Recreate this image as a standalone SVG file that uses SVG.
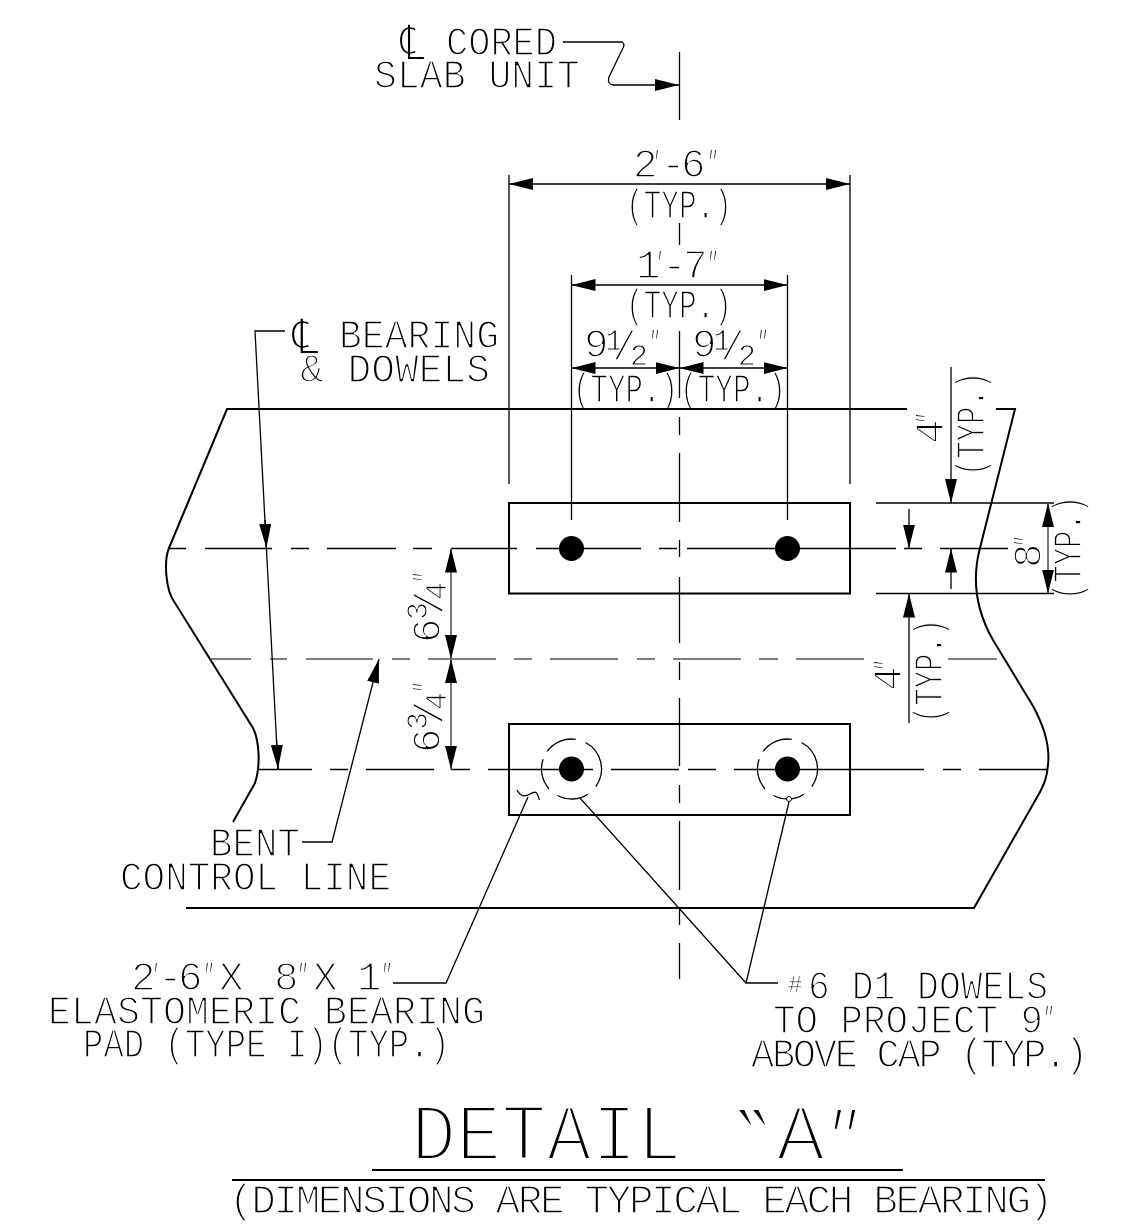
<svg xmlns="http://www.w3.org/2000/svg" width="1124" height="1226" viewBox="0 0 1124 1226">
<style>
.t{font-family:"Liberation Mono","DejaVu Sans Mono",monospace;font-size:41px;fill:#000;stroke:#fff;stroke-width:1.7px}
.s{font-size:30px;stroke-width:1.1px}
.n{font-size:24px;stroke-width:.7px}
.h{font-size:82px;stroke-width:3.9px}
.cl{font-family:"DejaVu Sans",sans-serif;font-size:50px;stroke-width:2.2px}
.q{font-family:"Inter","DejaVu Sans",sans-serif;font-weight:100;font-size:36px;stroke:none}
.qh{font-family:"DejaVu Sans",sans-serif;font-size:96px;stroke-width:3.2px}
.qi{font-family:"Inter","DejaVu Sans",sans-serif;font-weight:100;font-size:78px;stroke:none}
.l{fill:none;stroke:#000;stroke-width:1.3}
.g{fill:none;stroke:#555;stroke-width:1.6}
.b{fill:none;stroke:#000;stroke-width:2}
.a{marker-end:url(#ah)}
.aa{marker-end:url(#ah);marker-start:url(#ah)}
</style>
<defs>
<marker id="ah" markerUnits="userSpaceOnUse" markerWidth="24" markerHeight="12" refX="24" refY="6" orient="auto-start-reverse"><path d="M0 0L24 6L0 12z" fill="#000"/></marker>
<path id="ring" fill="none" stroke="#000" stroke-width="1.3" d="M14.1 -26.5A30 30 0 0 1 24.3 17.6M16.3 25.2A30 30 0 0 1 -14.1 26.5M-22.6 19.7A30 30 0 0 1 -28.4 -9.8M-24.3 -17.6A30 30 0 0 1 4.2 -29.7"/>
</defs>
<g id="labels" opacity=".999">
<text class="t"><tspan class="cl" x="400" y="60" textLength="25" lengthAdjust="spacingAndGlyphs">℄</tspan> <tspan x="446" y="55" textLength="111" lengthAdjust="spacingAndGlyphs">CORED</tspan></text>
<text class="t" x="374" y="88" textLength="206" lengthAdjust="spacingAndGlyphs">SLAB UNIT</text>
<text class="t"><tspan x="633" y="177">2</tspan><tspan class="q" x="654" y="177">′</tspan><tspan x="661" y="177">-</tspan><tspan x="681" y="177">6</tspan><tspan class="q" x="708" y="177">″</tspan></text>
<text class="t" x="626" y="218" textLength="106" lengthAdjust="spacingAndGlyphs">(TYP.)</text>
<text class="t"><tspan x="636" y="278">1</tspan><tspan class="q" x="657" y="278">′</tspan><tspan x="662" y="278">-</tspan><tspan x="683" y="278">7</tspan><tspan class="q" x="708" y="278">″</tspan></text>
<text class="t" x="626" y="318" textLength="106" lengthAdjust="spacingAndGlyphs">(TYP.)</text>
<text class="t"><tspan x="584" y="357">9</tspan><tspan class="s" x="605" y="350">1</tspan><tspan x="612" y="360">/</tspan><tspan class="s" x="630" y="365">2</tspan><tspan class="q" x="650" y="357">″</tspan></text>
<text class="t"><tspan x="692" y="357">9</tspan><tspan class="s" x="713" y="350">1</tspan><tspan x="720" y="360">/</tspan><tspan class="s" x="738" y="365">2</tspan><tspan class="q" x="758" y="357">″</tspan></text>
<text class="t" x="573" y="402" textLength="105" lengthAdjust="spacingAndGlyphs">(TYP.)</text>
<text class="t" x="680" y="402" textLength="106" lengthAdjust="spacingAndGlyphs">(TYP.)</text>
<text class="t"><tspan class="cl" x="292" y="354" textLength="27" lengthAdjust="spacingAndGlyphs">℄</tspan> <tspan x="339" y="348" textLength="160" lengthAdjust="spacingAndGlyphs">BEARING</tspan></text>
<text class="t" x="300" y="382" textLength="190" lengthAdjust="spacingAndGlyphs">&amp; DOWELS</text>
<text class="t" transform="translate(943,444) rotate(-90)"><tspan x="0" y="0">4</tspan><tspan class="q" x="21" y="0">″</tspan></text>
<text class="t" transform="translate(984,476) rotate(-90)" textLength="104" lengthAdjust="spacingAndGlyphs">(TYP.)</text>
<text class="t" transform="translate(901,691) rotate(-90)"><tspan x="0" y="0">4</tspan><tspan class="q" x="21" y="0">″</tspan></text>
<text class="t" transform="translate(942,723) rotate(-90)" textLength="104" lengthAdjust="spacingAndGlyphs">(TYP.)</text>
<text class="t" transform="translate(1041,568) rotate(-90)"><tspan x="0" y="0">8</tspan><tspan class="q" x="22" y="0">″</tspan></text>
<text class="t" transform="translate(1081,600) rotate(-90)" textLength="104" lengthAdjust="spacingAndGlyphs">(TYP.)</text>
<text class="t" transform="translate(440,640) rotate(-90)"><tspan x="-3" y="0">6</tspan><tspan class="s" x="20" y="-13">3</tspan><tspan x="25" y="3">/</tspan><tspan class="s" x="40" y="6">4</tspan><tspan class="q" x="58" y="0">″</tspan></text>
<text class="t" transform="translate(440,750) rotate(-90)"><tspan x="-3" y="0">6</tspan><tspan class="s" x="20" y="-13">3</tspan><tspan x="25" y="3">/</tspan><tspan class="s" x="40" y="6">4</tspan><tspan class="q" x="58" y="0">″</tspan></text>
<text class="t" x="210" y="856" textLength="90" lengthAdjust="spacingAndGlyphs">BENT</text>
<text class="t" x="120" y="890" textLength="271" lengthAdjust="spacingAndGlyphs">CONTROL LINE</text>
<text class="t"><tspan x="131" y="990">2</tspan><tspan class="q" x="153" y="990">′</tspan><tspan x="158" y="990">-</tspan><tspan x="178" y="990">6</tspan><tspan class="q" x="204" y="990">″</tspan><tspan x="219" y="990">X</tspan> <tspan x="274" y="990">8</tspan><tspan class="q" x="298" y="990">″</tspan><tspan x="313" y="990">X</tspan> <tspan x="357" y="990">1</tspan><tspan class="q" x="382" y="990">″</tspan></text>
<text class="t" x="48" y="1024" textLength="437" lengthAdjust="spacingAndGlyphs">ELASTOMERIC BEARING</text>
<text class="t" x="83" y="1057" textLength="367" lengthAdjust="spacingAndGlyphs">PAD (TYPE I)(TYP.)</text>
<text class="t"><tspan class="n" x="788" y="992">#</tspan><tspan x="808" y="999" textLength="240" lengthAdjust="spacingAndGlyphs">6 D1 DOWELS</tspan></text>
<text class="t"><tspan x="773" y="1033" textLength="270" lengthAdjust="spacingAndGlyphs">TO PROJECT 9</tspan><tspan class="q" x="1044" y="1033">″</tspan></text>
<text class="t" x="751" y="1067" textLength="335" lengthAdjust="spacingAndGlyphs" style="letter-spacing:-2.4px">ABOVE CAP (TYP.)</text>
<text class="t h"><tspan x="411" y="1160" textLength="271" lengthAdjust="spacingAndGlyphs">DETAIL</tspan> <tspan class="qh" x="734" y="1179">‶</tspan><tspan x="776" y="1160">A</tspan><tspan class="qi" x="828" y="1167" textLength="34" lengthAdjust="spacingAndGlyphs">″</tspan></text>
<text class="t" x="229" y="1213" textLength="822" lengthAdjust="spacingAndGlyphs" style="letter-spacing:-2.4px">(DIMENSIONS ARE TYPICAL EACH BEARING)</text>
</g>
<g id="outline">
<path class="b" d="M907 409H227L169 548C164 560 165 590 175 603L253 728C259 740 261 765 255 783L233 822"/>
<path class="b" d="M996 409H1015L980 548C971 582 977 612 993 640L1033 706C1045 728 1050 748 1048 765C1047 778 1044 784 1040 792L974 908H186"/>
<path class="b" d="M372 1170H903M232 1180H1045"/>
</g>
<g id="pads">
<rect class="b" x="509" y="503" width="341" height="90.500"/>
<rect class="b" x="509" y="724" width="341" height="91"/>
<path class="l" d="M517 790C521 797 525 797 530 794C537 790 537 793 539.500 800"/>
</g>
<g id="dowels">
<circle cx="571.500" cy="548.500" r="12.500"/>
<circle cx="787.500" cy="548.500" r="12.500"/>
<circle cx="571.500" cy="769" r="12.500"/>
<circle cx="787.500" cy="769" r="12.500"/>
<use href="#ring" x="571.500" y="769"/>
<use href="#ring" x="787.500" y="769"/>
<circle cx="789" cy="799" r="2.500" fill="#fff" stroke="#000"/>
</g>
<g id="centerlines">
<path class="l" d="M679.500 52V120M679.500 223V245M679.500 331V398M679.500 417V435M679.500 453V522M679.500 540V557M679.500 577V643M679.500 662V680M679.500 698V766M679.500 785V803M679.500 821V890M679.500 908V925M679.500 943V979"/>
<path class="l" d="M169 548.500H186M205 548.500H272M291 548.500H309M327 548.500H396M413 548.500H432M451 548.500H517M536 548.500H641M659 548.500H677M687 548.500H896M904 548.500H922M940 548.500H1008"/>
<path class="g" d="M210 659H251M270 659H287M306 659H373M392 659H410M428 659H496M514 659H532M550 659H618M637 659H655M673 659H741M759 659H778M796 659H864M948 659H997"/>
<path class="l" d="M259 769.500H312M330 769.500H348M366 769.500H434M451 769.500H470M488 769.500H593M611 769.500H679M688 769.500H716M734 769.500H924M943 769.500H961M979 769.500H1047"/>
</g>
<g id="connectors">
<path class="l" d="M509 175V484M850 175V484M571.500 275V520M787.500 275V520"/>
<path class="l aa" d="M509 184H850"/>
<path class="l aa" d="M571.500 285H787.500"/>
<path class="l aa" d="M571.500 368H679.500"/>
<path class="l aa" d="M679.500 368H787.500"/>
<path class="l" d="M876 503H1054M876 593.500H1054"/>
<path class="l a" d="M951 367V503"/>
<path class="l a" d="M909 509V548.500"/>
<path class="l a" d="M951 589V548.500"/>
<path class="l a" d="M909 723V593.500"/>
<path class="g aa" d="M1048 503V593.500"/>
<path class="g aa" d="M451 548.500V659"/>
<path class="g aa" d="M451 659V769.500"/>
<path class="l" d="M285 331H255L278 769"/>
<path class="l a" d="M265 520L266.400 548"/>
<path class="l a" d="M276.600 740L278 769"/>
<path class="l a" d="M302 842H332L379 659"/>
<path class="l" d="M393 983H446L528 797"/>
<path class="l" d="M778 983H746L580 798M746 983L789 802"/>
<path class="l a" d="M563 42H622Q626 44 622 50L609 77Q607 84 613 85H679"/>
</g>
</svg>
